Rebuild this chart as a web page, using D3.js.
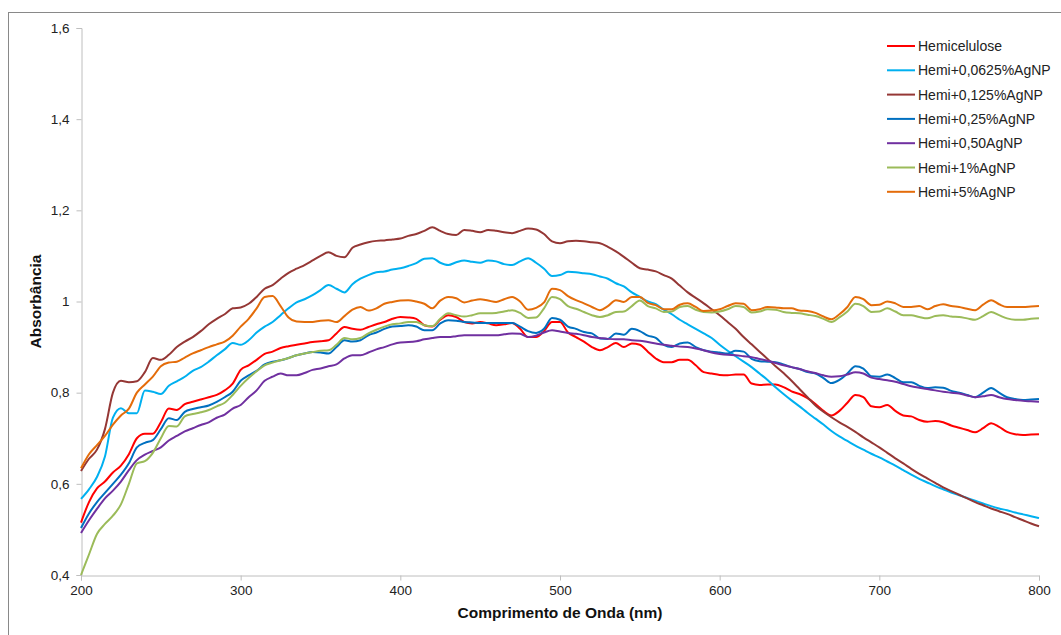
<!DOCTYPE html>
<html>
<head>
<meta charset="utf-8">
<script src="https://cdn.jsdelivr.net/npm/d3@7/dist/d3.min.js"></script>
<style>
  html, body { margin: 0; padding: 0; background: #fff; }
  svg { display: block; font-family: "Liberation Sans", Arial, sans-serif; }
</style>
</head>
<body>
<svg id="chart" width="1061" height="635"></svg>
<script>
// Wavelength grid (nm), 5 nm step, 200–800
const wavelengths = d3.range(200, 801, 5);

const seriesNames = [
  "Hemicelulose",
  "Hemi+0,0625%AgNP",
  "Hemi+0,125%AgNP",
  "Hemi+0,25%AgNP",
  "Hemi+0,50AgNP",
  "Hemi+1%AgNP",
  "Hemi+5%AgNP"
];
const seriesColors = ["#FF0000", "#00B0F0", "#953735", "#0070C0", "#7030A0", "#9BBB59", "#E46C0A"];

// Absorbance per sample, one value per wavelength (rows of 50 nm)
const hemicelulose = [
  0.515, 0.56, 0.59, 0.605, 0.625, 0.64, 0.665, 0.70, 0.71, 0.71,
  0.735, 0.765, 0.762, 0.775, 0.78, 0.785, 0.79, 0.795, 0.805, 0.82,
  0.85, 0.86, 0.872, 0.885, 0.89, 0.898, 0.902, 0.905, 0.908, 0.911,
  0.913, 0.915, 0.93, 0.944, 0.94, 0.938, 0.944, 0.95, 0.955, 0.962,
  0.966, 0.965, 0.962, 0.948, 0.945, 0.96, 0.97, 0.966, 0.955, 0.952,
  0.955, 0.952, 0.948, 0.95, 0.953, 0.94, 0.922, 0.922, 0.935, 0.955,
  0.955, 0.932, 0.922, 0.912, 0.90, 0.893, 0.90, 0.909, 0.90, 0.908,
  0.905, 0.89, 0.875, 0.867, 0.867, 0.872, 0.872, 0.86, 0.845, 0.842,
  0.839, 0.838, 0.84, 0.84, 0.82, 0.817, 0.818, 0.818, 0.812, 0.803,
  0.797, 0.788, 0.775, 0.76, 0.75, 0.76, 0.778, 0.795, 0.79, 0.77,
  0.768, 0.773, 0.76, 0.75, 0.748, 0.74, 0.736, 0.738, 0.735, 0.728,
  0.723, 0.718, 0.713, 0.722, 0.733, 0.725, 0.714, 0.709, 0.707, 0.708,
  0.709
];
const hemi00625 = [
  0.567, 0.588, 0.615, 0.66, 0.745, 0.766, 0.755, 0.755, 0.805, 0.802,
  0.797, 0.815, 0.825, 0.835, 0.848, 0.856, 0.868, 0.882, 0.895, 0.909,
  0.905, 0.915, 0.932, 0.945, 0.955, 0.97, 0.985, 0.998, 1.005, 1.014,
  1.025, 1.036, 1.028, 1.02, 1.038, 1.05, 1.058, 1.064, 1.066, 1.07,
  1.073, 1.078, 1.084, 1.094, 1.095, 1.085, 1.08, 1.086, 1.09, 1.087,
  1.085, 1.09, 1.088, 1.082, 1.08, 1.088, 1.095, 1.085, 1.072, 1.056,
  1.058, 1.065, 1.064, 1.062, 1.06, 1.055, 1.05, 1.04, 1.033, 1.02,
  1.01, 1.0, 0.994, 0.982, 0.972, 0.96, 0.95, 0.94, 0.93, 0.92,
  0.905, 0.892, 0.88, 0.868, 0.856, 0.842, 0.828, 0.812, 0.797, 0.783,
  0.77, 0.756, 0.743, 0.73, 0.716, 0.704, 0.694, 0.684, 0.675, 0.666,
  0.658, 0.649, 0.64, 0.63, 0.62, 0.611, 0.603, 0.595, 0.588, 0.581,
  0.575, 0.569, 0.563, 0.557, 0.551, 0.546, 0.542, 0.537, 0.533, 0.529,
  0.525
];
const hemi0125 = [
  0.628, 0.655, 0.675, 0.72, 0.80, 0.826, 0.823, 0.825, 0.845, 0.876,
  0.872, 0.883, 0.90, 0.912, 0.922, 0.935, 0.95, 0.962, 0.972, 0.985,
  0.987, 0.995, 1.01, 1.028, 1.036, 1.05, 1.063, 1.072, 1.08, 1.09,
  1.10, 1.108, 1.10, 1.097, 1.118, 1.125, 1.13, 1.133, 1.134, 1.136,
  1.138, 1.144, 1.148, 1.155, 1.163, 1.155, 1.148, 1.146, 1.157, 1.155,
  1.152, 1.157, 1.155, 1.152, 1.15, 1.155, 1.16, 1.158, 1.148, 1.132,
  1.128, 1.132, 1.133, 1.132, 1.13, 1.128, 1.12, 1.11, 1.098, 1.085,
  1.073, 1.07, 1.066, 1.058, 1.05, 1.035, 1.02, 1.008, 0.996, 0.983,
  0.97, 0.955, 0.94, 0.922, 0.906, 0.89, 0.874, 0.858, 0.843, 0.826,
  0.808, 0.79, 0.772, 0.758, 0.746, 0.735, 0.725, 0.714, 0.702, 0.691,
  0.68, 0.668, 0.656, 0.645, 0.633, 0.622, 0.612, 0.602, 0.592, 0.584,
  0.576, 0.568, 0.56, 0.553, 0.546, 0.54, 0.534, 0.527, 0.52, 0.513,
  0.507
];
const hemi025 = [
  0.503, 0.535, 0.56, 0.58, 0.60, 0.62, 0.645, 0.68, 0.69, 0.696,
  0.72, 0.744, 0.74, 0.758, 0.764, 0.768, 0.772, 0.78, 0.79, 0.802,
  0.826, 0.838, 0.848, 0.862, 0.868, 0.871, 0.876, 0.882, 0.886, 0.889,
  0.888, 0.886, 0.90, 0.915, 0.912, 0.915, 0.926, 0.932, 0.94, 0.945,
  0.946, 0.948, 0.945, 0.937, 0.937, 0.952, 0.959, 0.958, 0.955, 0.954,
  0.953, 0.953, 0.953, 0.953, 0.953, 0.945, 0.935, 0.931, 0.94, 0.964,
  0.96, 0.945, 0.94, 0.933, 0.93, 0.919, 0.918, 0.93, 0.927, 0.94,
  0.935, 0.925, 0.92, 0.905, 0.90, 0.908, 0.91, 0.90, 0.893, 0.89,
  0.888, 0.886, 0.892, 0.89, 0.874, 0.869, 0.868, 0.867, 0.862, 0.856,
  0.852, 0.845, 0.842, 0.832, 0.821, 0.828, 0.842, 0.858, 0.853, 0.836,
  0.835, 0.84, 0.832, 0.823, 0.823, 0.815, 0.81, 0.812, 0.811, 0.804,
  0.80, 0.795, 0.79, 0.80, 0.81, 0.80, 0.79, 0.786, 0.784, 0.785,
  0.786
];
const hemi050 = [
  0.492, 0.52, 0.545, 0.568, 0.585, 0.605, 0.63, 0.652, 0.664, 0.672,
  0.68, 0.695, 0.705, 0.715, 0.722, 0.729, 0.735, 0.745, 0.752, 0.765,
  0.773, 0.79, 0.805, 0.826, 0.835, 0.842, 0.838, 0.838, 0.843, 0.85,
  0.853, 0.858, 0.862, 0.875, 0.882, 0.882, 0.888, 0.895, 0.90, 0.906,
  0.91, 0.911, 0.913, 0.917, 0.92, 0.922, 0.922, 0.924, 0.926, 0.926,
  0.926, 0.926, 0.926, 0.928, 0.93, 0.929, 0.922, 0.925, 0.932, 0.937,
  0.934, 0.931, 0.929, 0.926, 0.922, 0.92, 0.918, 0.917, 0.917, 0.915,
  0.914, 0.911, 0.908, 0.905, 0.903, 0.901, 0.90, 0.897, 0.893, 0.888,
  0.885, 0.883, 0.882, 0.88, 0.878, 0.874, 0.87, 0.865, 0.86, 0.856,
  0.852, 0.847, 0.843, 0.838, 0.835, 0.836, 0.84, 0.845, 0.842, 0.833,
  0.83, 0.827, 0.824, 0.819, 0.814, 0.811, 0.808, 0.805, 0.802, 0.80,
  0.798, 0.794, 0.79, 0.792, 0.795, 0.79, 0.786, 0.784, 0.782, 0.781,
  0.78
];
const hemi1 = [
  0.40, 0.445, 0.49, 0.512, 0.53, 0.555, 0.60, 0.645, 0.65, 0.668,
  0.70, 0.727, 0.726, 0.748, 0.753, 0.757, 0.762, 0.77, 0.778, 0.795,
  0.815, 0.832, 0.847, 0.86, 0.866, 0.871, 0.876, 0.882, 0.886, 0.889,
  0.892, 0.893, 0.905, 0.92, 0.917, 0.92, 0.93, 0.938, 0.945, 0.95,
  0.952, 0.955, 0.955, 0.948, 0.946, 0.962, 0.974, 0.97, 0.967, 0.97,
  0.974, 0.974, 0.975, 0.978, 0.981, 0.975, 0.964, 0.965, 0.985, 1.01,
  1.005, 0.99, 0.984, 0.977, 0.97, 0.966, 0.97, 0.977, 0.978, 0.99,
  1.002, 0.99, 0.985, 0.977, 0.978, 0.988, 0.99, 0.982, 0.977, 0.976,
  0.978, 0.983, 0.99, 0.988, 0.976, 0.978, 0.983, 0.982, 0.977, 0.975,
  0.974, 0.971, 0.968, 0.962, 0.955, 0.965, 0.978, 0.995, 0.99, 0.977,
  0.978, 0.985, 0.978, 0.97, 0.97, 0.966, 0.963, 0.968, 0.97, 0.967,
  0.966, 0.963, 0.96, 0.968, 0.977, 0.97, 0.963, 0.96, 0.96, 0.962,
  0.963
];
const hemi5 = [
  0.634, 0.665, 0.685, 0.705, 0.73, 0.75, 0.765, 0.80, 0.818, 0.835,
  0.858, 0.866, 0.868, 0.877, 0.886, 0.893, 0.90, 0.906, 0.912, 0.925,
  0.945, 0.962, 0.985, 1.01, 1.012, 0.99, 0.965, 0.956, 0.955, 0.955,
  0.958, 0.959, 0.955, 0.968, 0.982, 0.988, 0.98, 0.985, 0.995, 0.999,
  1.002, 1.003, 1.0, 0.995, 0.985, 1.002, 1.01, 1.007, 0.998, 1.002,
  1.005, 1.002, 0.999, 1.005, 1.01, 1.0, 0.982, 0.986, 0.998, 1.028,
  1.025, 1.012, 1.003, 0.996, 0.988, 0.981, 0.99, 1.003, 0.999, 1.01,
  1.01, 0.997, 0.992, 0.983, 0.983, 0.993, 0.996, 0.988, 0.979, 0.98,
  0.983, 0.99, 0.996, 0.995, 0.981, 0.983, 0.988, 0.987, 0.985, 0.985,
  0.98, 0.979, 0.975, 0.967, 0.961, 0.972, 0.988, 1.01, 1.005, 0.992,
  0.993, 1.0, 0.996, 0.988, 0.988, 0.99, 0.983, 0.99, 0.994, 0.99,
  0.988, 0.984, 0.981, 0.993, 1.003, 0.994, 0.988, 0.988, 0.988, 0.989,
  0.99
];

const seriesValues = [hemicelulose, hemi00625, hemi0125, hemi025, hemi050, hemi1, hemi5];

const xTicks = [200, 300, 400, 500, 600, 700, 800];
const yTicks = [0.4, 0.6, 0.8, 1.0, 1.2, 1.4, 1.6];

const svg = d3.select("#chart");

// Outer chart frame
svg.append("rect")
  .attr("x", 8.5).attr("y", 12.5)
  .attr("width", 1100).attr("height", 700)
  .attr("fill", "none").attr("stroke", "#898989").attr("stroke-width", 1);

const plot = { left: 81, right: 1039, top: 28, bottom: 575 };

const x = d3.scaleLinear().domain([200, 800]).range([plot.left, plot.right]);
const y = d3.scaleLinear().domain([0.4, 1.6]).range([plot.bottom, plot.top]);

const fmt = v => (Math.abs(v - Math.round(v)) < 1e-9 ? String(Math.round(v)) : d3.format(".1f")(v).replace(".", ","));

// Y axis
const yAxis = svg.append("g")
  .attr("transform", `translate(${plot.left + 0.5},0)`)
  .call(d3.axisLeft(y).tickValues(yTicks).tickFormat(fmt).tickSize(5).tickPadding(7));
yAxis.select(".domain").attr("stroke", "#BEBEBE");
yAxis.selectAll(".tick line").attr("stroke", "#BEBEBE");
yAxis.selectAll(".tick text").attr("font-size", 13.5).attr("fill", "#222")
  .attr("font-family", "'Liberation Sans', Arial, sans-serif");

// X axis
const xAxis = svg.append("g")
  .attr("transform", `translate(0,${plot.bottom + 0.5})`)
  .call(d3.axisBottom(x).tickValues(xTicks).tickFormat(d3.format("d")).tickSize(5).tickPadding(5));
xAxis.select(".domain").attr("stroke", "#BEBEBE");
xAxis.selectAll(".tick line").attr("stroke", "#BEBEBE");
xAxis.selectAll(".tick text").attr("font-size", 13.5).attr("fill", "#222")
  .attr("font-family", "'Liberation Sans', Arial, sans-serif");

// Axis titles
svg.append("text")
  .attr("x", (plot.left + plot.right) / 2).attr("y", 618)
  .attr("text-anchor", "middle")
  .attr("font-size", 15.5).attr("font-weight", "bold").attr("fill", "#111")
  .text("Comprimento de Onda (nm)");

svg.append("text")
  .attr("transform", `translate(41,${(plot.top + plot.bottom) / 2}) rotate(-90)`)
  .attr("text-anchor", "middle")
  .attr("font-size", 15.5).attr("font-weight", "bold").attr("fill", "#111")
  .text("Absorbância");

// Spectra
const line = d3.line()
  .x((d, i) => x(wavelengths[i]))
  .y(d => y(d))
  .curve(d3.curveMonotoneX);

svg.append("g").selectAll("path")
  .data(seriesValues)
  .join("path")
  .attr("d", d => line(d))
  .attr("fill", "none")
  .attr("stroke", (d, i) => seriesColors[i])
  .attr("stroke-width", 2)
  .attr("stroke-linejoin", "round");

// Legend
const legend = svg.append("g");
seriesNames.forEach((name, i) => {
  const ly = 46 + i * 24.3;
  legend.append("line")
    .attr("x1", 887).attr("x2", 915)
    .attr("y1", ly).attr("y2", ly)
    .attr("stroke", seriesColors[i]).attr("stroke-width", 2);
  legend.append("text")
    .attr("x", 918).attr("y", ly + 5)
    .attr("font-size", 14).attr("fill", "#222")
    .text(name);
});
</script>
</body>
</html>
